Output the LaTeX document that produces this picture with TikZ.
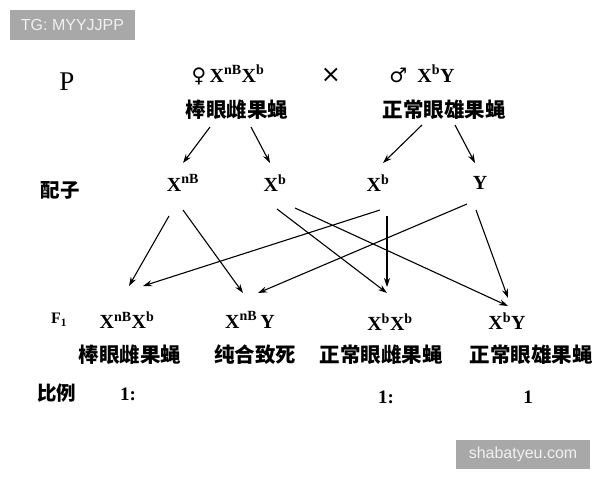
\documentclass[tikz,border=0pt]{standalone}
\usepackage{fontspec}
\setmainfont{Liberation Serif}
\setsansfont{Liberation Sans}
\newfontfamily\cjk{Noto Sans CJK SC}
\newfontfamily\sym{DejaVu Sans}
\usetikzlibrary{arrows.meta}
\definecolor{TagGray}{HTML}{A8A8A8}
\newcommand{\sx}[1]{X\textsuperscript{#1}}

\begin{document}
\begin{tikzpicture}[
        x=1pt, y=-1pt,
        gene/.style={font=\bfseries\fontsize{20}{22}\selectfont, inner sep=0pt, minimum height=20pt},
        fly/.style={font=\cjk\bfseries\fontsize{20.5}{22}\selectfont, inner sep=0pt},
        rowlabel/.style={font=\fontsize{27}{29}\selectfont, inner sep=0pt},
        ratio/.style={font=\bfseries\fontsize{19}{21}\selectfont, inner sep=0pt},
        tag/.style={fill=TagGray, text=white!94!black, font=\sffamily\fontsize{16}{18}\selectfont, inner sep=0pt},
        arrow/.style={line width=1.1pt, -{Stealth[length=9pt,width=6pt]}}
    ]
    \useasboundingbox (0,0) rectangle (600,480);

    % Watermarks
    \node (tagTG) [tag, minimum width=125pt, minimum height=30pt] at (72.5,25) {TG: MYYJJPP};
    \node (tagSite) [tag, minimum width=134pt, minimum height=29pt] at (523,454.5) {shabatyeu.com};

    % Row labels
    \node (rowP) [rowlabel] at (67,82) {P};
    \node (rowG) [fly, font=\cjk\bfseries\fontsize{19.5}{21}\selectfont] at (60,190) {配子};
    \node (rowF) [gene, font=\bfseries\fontsize{16}{18}\selectfont] at (59,320) {F\textsubscript{1}};
    \node (rowR) [fly, font=\cjk\bfseries\fontsize{19.5}{21}\selectfont] at (57,393) {比例};

    % Parents
    \node (fgeno) [gene] at (228,75) {{\sym\fontsize{20}{22}\selectfont ♀}\,\sx{nB}\sx{b}};
    \node (fname) [fly] at (237,110) {棒眼雌果蝇};
    \node (cross) [font=\sym\fontsize{24}{26}\selectfont, inner sep=0pt] at (331,75) {×};
    \node (mgeno) [gene] at (422,74) {{\sym\fontsize{20}{22}\selectfont ♂}\enspace\sx{b}Y};
    \node (mname) [fly] at (444,110) {正常眼雄果蝇};

    % Gametes
    \node (gXnB) [gene] at (183,183) {\sx{nB}};
    \node (gXbF) [gene] at (275,183) {\sx{b}};
    \node (gXbM) [gene] at (378,183) {\sx{b}};
    \node (gY)   [gene] at (480,183) {Y};

    \draw [arrow] ([shift={(-27,17)}]fname.center) -- ([shift={(0,-20)}]gXnB.center);
    \draw [arrow] ([shift={(14,17)}]fname.center) -- ([shift={(-5,-20)}]gXbF.center);
    \draw [arrow] ([shift={(-22,15)}]mname.center) -- ([shift={(5,-20)}]gXbM.center);
    \draw [arrow] ([shift={(11,15)}]mname.center) -- ([shift={(-5,-20)}]gY.center);

    % Offspring
    \node (f1a) [gene] at (127,320) {\sx{nB}\sx{b}};
    \node (f1b) [gene] at (250,320) {\sx{nB}\,Y};
    \node (f1c) [gene] at (390,322) {\sx{b}\sx{b}};
    \node (f1d) [gene] at (507,321) {\sx{b}Y};

    \node (namea) [fly] at (130,355) {棒眼雌果蝇};
    \node (nameb) [fly] at (255,355) {纯合致死};
    \node (namec) [fly] at (381,355) {正常眼雌果蝇};
    \node (named) [fly] at (531,355) {正常眼雄果蝇};

    \node (ra) [ratio] at (128,394) {1:};
    \node (rc) [ratio] at (386,397) {1:};
    \node (rd) [ratio] at (528,397) {1};

    % Gametes combine
    \draw [arrow] ([shift={(-14,33)}]gXnB.center) -- ([shift={(2,-34)}]f1a.center);
    \draw [arrow] ([shift={(0,27)}]gXnB.center) -- ([shift={(-7,-27)}]f1b.center);
    \draw [arrow] ([shift={(2,26)}]gXbF.center) -- ([shift={(-3,-29)}]f1c.center);
    \draw [arrow] ([shift={(20,25)}]gXbF.center) -- ([shift={(1,-15)}]f1d.center);
    \draw [arrow] ([shift={(2,27)}]gXbM.center) -- ([shift={(16,-34)}]f1a.center);
    \draw [arrow] ([shift={(9,33)}]gXbM.center) -- ([shift={(-3,-35)}]f1c.center);
    \draw [arrow] ([shift={(-13,21)}]gY.center) -- ([shift={(8,-27)}]f1b.center);
    \draw [arrow] ([shift={(-4,27)}]gY.center) -- ([shift={(1,-23)}]f1d.center);

\end{tikzpicture}
\end{document}
